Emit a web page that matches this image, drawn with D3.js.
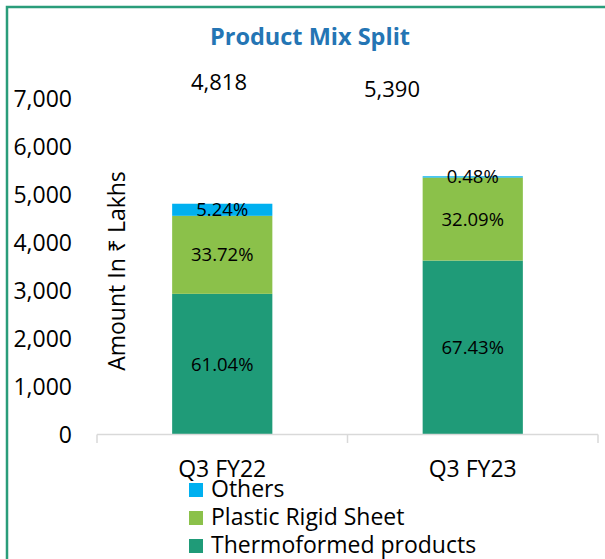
<!DOCTYPE html>
<html>
<head>
<meta charset="utf-8">
<script src="https://cdn.jsdelivr.net/npm/d3@7"></script>
<style>
  html, body { margin: 0; padding: 0; background: #fff; }
  svg { display: block; }
  text { font-family: "Open Sans", "Noto Sans", sans-serif; fill: #000; }
</style>
</head>
<body>
<svg id="chart" width="605" height="559"></svg>
<script>
const categories = ["Q3 FY22", "Q3 FY23"];
const seriesNames = ["Thermoformed products", "Plastic Rigid Sheet", "Others"];
const thermoformed = [2941, 3634];
const plasticRigid = [1625, 1730];
const others = [252, 26];
const thermoLabels = ["61.04%", "67.43%"];
const plasticLabels = ["33.72%", "32.09%"];
const othersLabels = ["5.24%", "0.48%"];
const totalLabels = ["4,818", "5,390"];
const yTicks = [0, 1000, 2000, 3000, 4000, 5000, 6000, 7000];
const colors = ["#1f9b78", "#8bc14a", "#00b0f0"];
const legendOrder = ["Others", "Plastic Rigid Sheet", "Thermoformed products"];

const svg = d3.select("#chart");

// outer border
svg.append("rect").attr("x", 7).attr("y", 7).attr("width", 620).attr("height", 580)
  .attr("fill", "none").attr("stroke", "#2a9d7a").attr("stroke-width", 2.5);

const y = d3.scaleLinear().domain([0, 7000]).range([435, 99]);
const x = d3.scaleBand().domain(categories).range([97, 598]).paddingInner(0.6).paddingOuter(0.3);

// title
svg.append("text").attr("x", 310).attr("y", 45).attr("text-anchor", "middle")
  .style("font-weight", "700").style("font-size", "23.5px").style("fill", "#2475b4")
  .text("Product Mix Split");

// y axis labels
const yAxis = d3.axisLeft(y).tickValues(yTicks).tickSize(0).tickPadding(0).tickFormat(d3.format(","));
const gy = svg.append("g").attr("transform", "translate(72,0)").call(yAxis);
gy.select(".domain").remove();
gy.selectAll("text").style("font-size", "23px").style("font-family", '"Open Sans", sans-serif').attr("fill", "#000");

// y axis title
svg.append("text").attr("transform", "translate(125,271) rotate(-90)").attr("text-anchor", "middle")
  .style("font-size", "23px").text("Amount In ₹ Lakhs");

// stacked data
const table = categories.map((c, i) => ({
  cat: c, "Thermoformed products": thermoformed[i], "Plastic Rigid Sheet": plasticRigid[i], "Others": others[i]
}));
const stack = d3.stack().keys(seriesNames)(table);
const labelSets = [thermoLabels, plasticLabels, othersLabels];

const bw = x.bandwidth();
stack.forEach((layer, li) => {
  svg.append("g").selectAll("rect").data(layer).join("rect")
    .attr("x", d => x(d.data.cat))
    .attr("y", d => y(d[1]))
    .attr("width", bw)
    .attr("height", d => y(d[0]) - y(d[1]))
    .attr("fill", colors[li]);
});
stack.forEach((layer, li) => {
  svg.append("g").selectAll("text").data(layer).join("text")
    .attr("x", d => x(d.data.cat) + bw / 2)
    .attr("y", d => (y(d[0]) + y(d[1])) / 2 + 6.5)
    .attr("text-anchor", "middle")
    .style("font-size", "18.5px")
    .text((d, i) => labelSets[li][i]);
});

// x axis
const axisY = 434.5;
const bounds = [x.range()[0], x(categories[1]) - x.step() * x.paddingInner() / 2, x.range()[1]];
svg.append("line").attr("x1", bounds[0]).attr("x2", bounds[2]).attr("y1", axisY).attr("y2", axisY)
  .attr("stroke", "#d9d9d9").attr("stroke-width", 1.5);
svg.append("g").selectAll("line").data(bounds).join("line")
  .attr("x1", d => d).attr("x2", d => d).attr("y1", axisY).attr("y2", 443)
  .attr("stroke", "#d9d9d9").attr("stroke-width", 1.5);
svg.append("g").selectAll("text").data(categories).join("text")
  .attr("x", d => x(d) + bw / 2).attr("y", 476.5).attr("text-anchor", "middle")
  .style("font-size", "23px").text(d => d);

// totals (free-floating labels)
const totalPos = [[219, 90], [392, 96.5]];
svg.append("g").selectAll("text").data(totalLabels).join("text")
  .attr("x", (d, i) => totalPos[i][0]).attr("y", (d, i) => totalPos[i][1])
  .attr("text-anchor", "middle").style("font-size", "22px").text(d => d);

// legend
const legendColor = { "Others": colors[2], "Plastic Rigid Sheet": colors[1], "Thermoformed products": colors[0] };
const lg = svg.append("g").selectAll("g").data(legendOrder).join("g")
  .attr("transform", (d, i) => `translate(189,${497 + i * 28})`);
lg.append("rect").attr("x", 0).attr("y", -14).attr("width", 14).attr("height", 14).attr("fill", d => legendColor[d]);
lg.append("text").attr("x", 22).attr("y", 0).style("font-size", "23px").text(d => d);
</script>
</body>
</html>
